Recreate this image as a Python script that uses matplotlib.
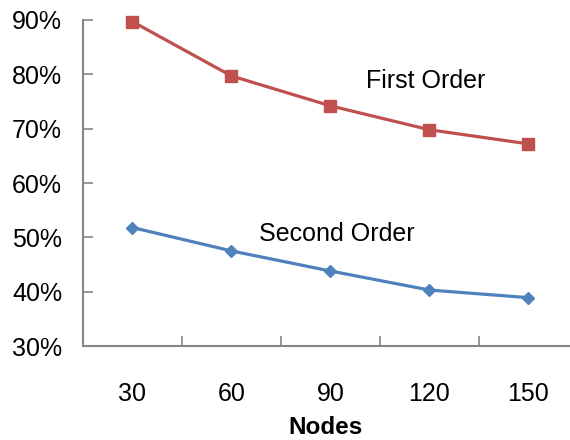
import matplotlib
matplotlib.use("Agg")
import matplotlib.pyplot as plt

nodes = ["30", "60", "90", "120", "150"]
first_order = [89.7, 79.7, 74.2, 69.8, 67.2]
second_order = [51.8, 47.5, 43.8, 40.3, 38.9]
y_ticks = [30, 40, 50, 60, 70, 80, 90]

plt.rcParams["font.family"] = ["Liberation Sans", "DejaVu Sans"]

fig = plt.figure(figsize=(5.70, 4.40), dpi=100)
W, H = 570, 440
left, right, top, bottom = 83, 569, 20, 346
ax = fig.add_axes([left / W, 1 - bottom / H, (right - left) / W, (bottom - top) / H])

x = list(range(len(nodes)))
ax.plot(x, first_order, color="#C0504D", lw=2.3, marker="s", ms=8, clip_on=False)
ax.plot(x, second_order, color="#4F81BD", lw=2.3, marker="D", ms=6.5, clip_on=False)

ax.set_ylim(30, 90)
ax.set_xlim(-0.5, 4.41)
ax.set_yticks(y_ticks)
ax.set_yticklabels([f"{v}%" for v in y_ticks])
ax.set_xticks([i + 0.5 for i in range(4)])
ax.set_xticklabels([])
ax.set_xticks(x, minor=True)
ax.set_xticklabels(nodes, minor=True)

for s in ["top", "right"]:
    ax.spines[s].set_visible(False)
for s in ["left", "bottom"]:
    ax.spines[s].set_color("#868686")
    ax.spines[s].set_linewidth(1.5)

ax.tick_params(axis="y", direction="in", length=7, width=1.2, color="#868686",
               labelsize=18, pad=15)
ax.tick_params(axis="x", which="major", direction="in", length=7, width=1.2,
               color="#868686")
ax.tick_params(axis="x", which="minor", length=0, labelsize=18, pad=26)

ax.set_xlabel("Nodes", fontsize=17.5, fontweight="bold", labelpad=7)

ax.text(2.36, 78.8, "First Order", fontsize=18, ha="left", va="center")
ax.text(1.28, 50.6, "Second Order", fontsize=18, ha="left", va="center")

fig.savefig("out.png", dpi=100)
